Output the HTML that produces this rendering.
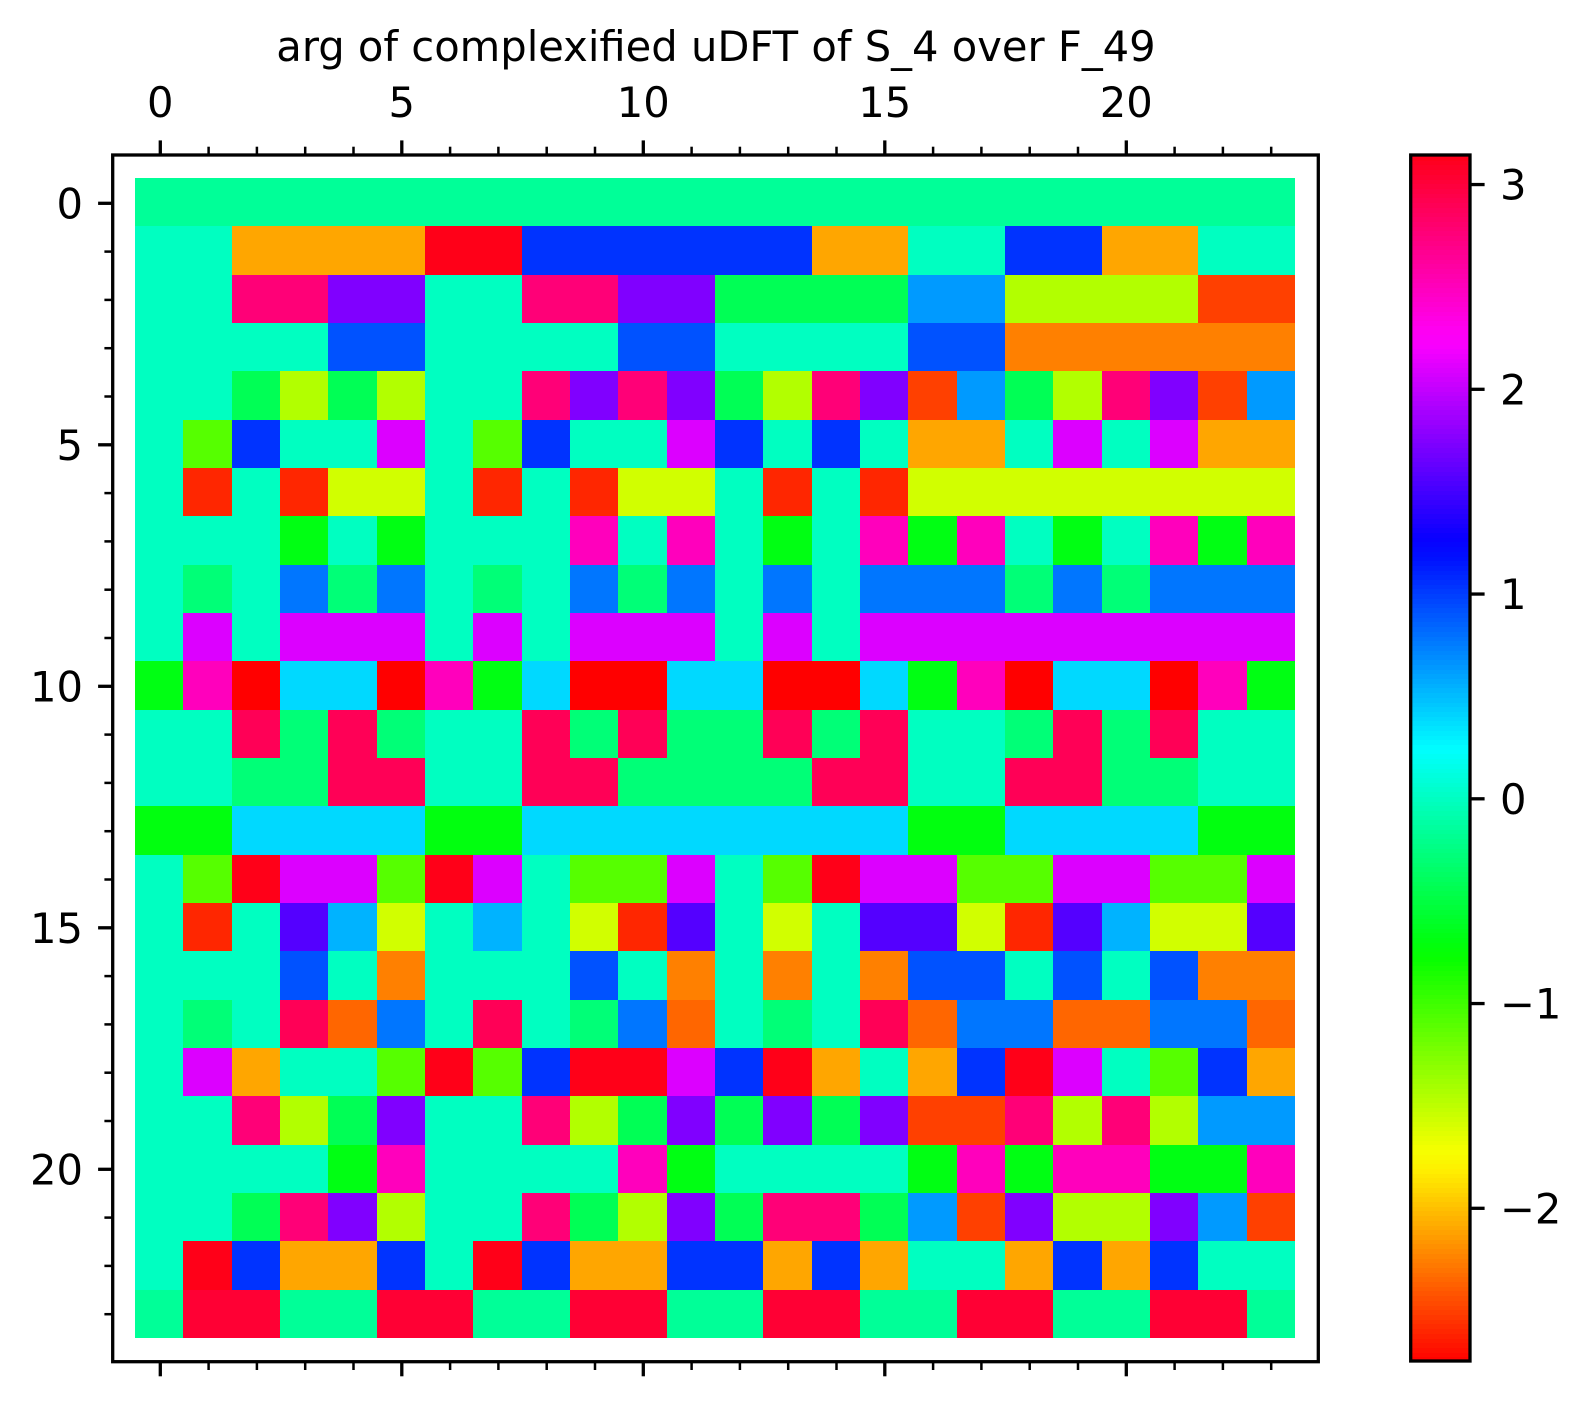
<!DOCTYPE html>
<html lang="en">
<head>
<meta charset="utf-8">
<title>arg of complexified uDFT of S_4 over F_49</title>
<style>
html,body{margin:0;padding:0;background:#fff;}
svg{display:block;}
text{font-family:"DejaVu Sans","Liberation Sans",sans-serif;font-size:41.67px;fill:#000;}
</style>
</head>
<body>
<svg id="chart" xmlns="http://www.w3.org/2000/svg" width="1590" height="1406" viewBox="0 0 1590 1406">
<rect x="0" y="0" width="1590" height="1406" fill="#fff"/>
<g id="cells" shape-rendering="crispEdges"></g>
<rect x="112.7" y="155" width="1205.6" height="1206.7" fill="none" stroke="#000" stroke-width="3.3"/>
<g id="xticks"></g>
<g id="yticks"></g>
<text x="716" y="61" text-anchor="middle">arg of complexified uDFT of S_4 over F_49</text>
<g id="cbar" shape-rendering="crispEdges"></g>
<rect x="1410.7" y="155" width="59.3" height="1206" fill="none" stroke="#000" stroke-width="3.3"/>
<g id="cbticks"></g>
</svg>
<script>
const xTickValues = [0,5,10,15,20];
const yTickValues = [0,5,10,15,20];
const colorbarTickValues = [3,2,1,0,-1,-2];
const colorbarTickLabels = ["3","2","1","0","\u22121","\u22122"];
const colorRange = [-2.749, 3.1416];
const rowValues = [
[-0.16,-0.16,-0.16,-0.16,-0.16,-0.16,-0.16,-0.16,-0.16,-0.16,-0.16,-0.16,-0.16,-0.16,-0.16,-0.16,-0.16,-0.16,-0.16,-0.16,-0.16,-0.16,-0.16,-0.16],
[0,0,-2.1,-2.1,-2.1,-2.1,3.14,3.14,1.04,1.04,1.04,1.04,1.04,1.04,-2.1,-2.1,0,0,1.04,1.04,-2.1,-2.1,0,0],
[0,0,2.77,2.77,1.74,1.74,0,0,2.77,2.77,1.74,1.74,-0.42,-0.42,-0.42,-0.42,0.64,0.64,-1.45,-1.45,-1.45,-1.45,-2.5,-2.5],
[0,0,0,0,0.92,0.92,0,0,0,0,0.92,0.92,0,0,0,0,0.92,0.92,-2.25,-2.25,-2.25,-2.25,-2.25,-2.25],
[0,0,-0.42,-1.45,-0.42,-1.45,0,0,2.77,1.74,2.77,1.74,-0.42,-1.45,2.77,1.74,-2.5,0.64,-0.42,-1.45,2.77,1.74,-2.5,0.64],
[0,-1.09,1.04,0,0,2.1,0,-1.09,1.04,0,0,2.1,1.04,0,1.04,0,-2.1,-2.1,0,2.1,0,2.1,-2.1,-2.1],
[0,-2.6,0,-2.6,-1.57,-1.57,0,-2.6,0,-2.6,-1.57,-1.57,0,-2.6,0,-2.6,-1.57,-1.57,-1.57,-1.57,-1.57,-1.57,-1.57,-1.57],
[0,0,0,-0.68,0,-0.68,0,0,0,2.5,0,2.5,0,-0.68,0,2.5,-0.68,2.5,0,-0.68,0,2.5,-0.68,2.5],
[0,-0.29,0,0.78,-0.29,0.78,0,-0.29,0,0.78,-0.29,0.78,0,0.78,0,0.78,0.78,0.78,-0.29,0.78,-0.29,0.78,0.78,0.78],
[0,2.1,0,2.1,2.1,2.1,0,2.1,0,2.1,2.1,2.1,0,2.1,0,2.1,2.1,2.1,2.1,2.1,2.1,2.1,2.1,2.1],
[-0.68,2.5,-2.749,0.39,0.39,-2.749,2.5,-0.68,0.39,-2.749,-2.749,0.39,0.39,-2.749,-2.749,0.39,-0.68,2.5,-2.749,0.39,0.39,-2.749,2.5,-0.68],
[0,0,2.9,-0.29,2.9,-0.29,0,0,2.9,-0.29,2.9,-0.29,-0.29,2.9,-0.29,2.9,0,0,-0.29,2.9,-0.29,2.9,0,0],
[0,0,-0.29,-0.29,2.9,2.9,0,0,2.9,2.9,-0.29,-0.29,-0.29,-0.29,2.9,2.9,0,0,2.9,2.9,-0.29,-0.29,0,0],
[-0.7,-0.7,0.39,0.39,0.39,0.39,-0.7,-0.7,0.39,0.39,0.39,0.39,0.39,0.39,0.39,0.39,-0.7,-0.7,0.39,0.39,0.39,0.39,-0.7,-0.7],
[0,-1.09,3.14,2.1,2.1,-1.09,3.14,2.1,0,-1.09,-1.09,2.1,0,-1.09,3.14,2.1,2.1,-1.09,-1.09,2.1,2.1,-1.09,-1.09,2.1],
[0,-2.6,0,1.57,0.54,-1.57,0,0.54,0,-1.57,-2.6,1.57,0,-1.57,0,1.57,1.57,-1.57,-2.6,1.57,0.54,-1.57,-1.57,1.57],
[0,0,0,0.92,0,-2.25,0,0,0,0.92,0,-2.25,0,-2.25,0,-2.25,0.92,0.92,0,0.92,0,0.92,-2.25,-2.25],
[0,-0.29,0,2.9,-2.35,0.78,0,2.9,0,-0.29,0.78,-2.35,0,-0.29,0,2.9,-2.35,0.78,0.78,-2.35,-2.35,0.78,0.78,-2.35],
[0,2.1,-2.1,0,0,-1.09,3.14,-1.09,1.04,3.14,3.14,2.1,1.04,3.14,-2.1,0,-2.1,1.04,3.14,2.1,0,-1.09,1.04,-2.1],
[0,0,2.77,-1.45,-0.42,1.74,0,0,2.77,-1.45,-0.42,1.74,-0.42,1.74,-0.42,1.74,-2.5,-2.5,2.77,-1.45,2.77,-1.45,0.64,0.64],
[0,0,0,0,-0.68,2.5,0,0,0,0,2.5,-0.68,0,0,0,0,-0.68,2.5,-0.68,2.5,2.5,-0.68,-0.68,2.5],
[0,0,-0.42,2.77,1.74,-1.45,0,0,2.77,-0.42,-1.45,1.74,-0.42,2.77,2.77,-0.42,0.64,-2.5,1.74,-1.45,-1.45,1.74,0.64,-2.5],
[0,3.14,1.04,-2.1,-2.1,1.04,0,3.14,1.04,-2.1,-2.1,1.04,1.04,-2.1,1.04,-2.1,0,0,-2.1,1.04,-2.1,1.04,0,0],
[-0.16,3.03,3.03,-0.16,-0.16,3.03,3.03,-0.16,-0.16,3.03,3.03,-0.16,-0.16,3.03,3.03,-0.16,-0.16,3.03,3.03,-0.16,-0.16,3.03,3.03,-0.16]
];

const NS = "http://www.w3.org/2000/svg";
function make(tag, attrs, parent){
  const el = document.createElementNS(NS, tag);
  for (const k in attrs) el.setAttribute(k, attrs[k]);
  parent.appendChild(el);
  return el;
}
// axis functions
const CELL = 48.333;
function xEdge(col){ return 135 + CELL * col; }
function yEdge(row){ return 178 + CELL * row; }
function xTick(i){ return 160.3 + 48.3 * i; }
function yTick(i){ return 203.3 + 48.3 * i; }
function cbY(v){ return 798.8 - 204.75 * v; }

// matplotlib "hsv" colormap segments
const redSeg = [[0,1],[0.15873,1],[0.174603,0.96875],[0.333333,0.03125],[0.349206,0],[0.666667,0],[0.68254,0.03125],[0.84127,0.96875],[0.857143,1],[1,1]];
const greenSeg = [[0,0],[0.15873,0.9375],[0.174603,1],[0.507937,1],[0.666667,0.0625],[0.68254,0],[1,0]];
const blueSeg = [[0,0],[0.333333,0],[0.349206,0.0625],[0.507937,1],[0.84127,1],[0.857143,0.9375],[1,0.09375]];
function seg(s, t){
  for (let i = 1; i < s.length; i++){
    if (t <= s[i][0]){
      const f = (t - s[i-1][0]) / (s[i][0] - s[i-1][0]);
      return s[i-1][1] + f * (s[i][1] - s[i-1][1]);
    }
  }
  return s[s.length-1][1];
}
function colorOf(v){
  let t = (v - colorRange[0]) / (colorRange[1] - colorRange[0]);
  t = Math.max(0, Math.min(1, t));
  return "rgb(" + Math.round(seg(redSeg,t)*255) + "," + Math.round(seg(greenSeg,t)*255) + "," + Math.round(seg(blueSeg,t)*255) + ")";
}

// heatmap cells
const cellsG = document.getElementById("cells");
rowValues.forEach(function(row, r){
  row.forEach(function(v, c){
    const x0 = Math.round(xEdge(c)), x1 = Math.round(xEdge(c+1));
    const y0 = Math.round(yEdge(r)), y1 = Math.round(yEdge(r+1));
    const el = make("rect", {x:x0, y:y0, width:x1-x0, height:y1-y0, fill:colorOf(v)}, cellsG);
    
    
  });
});

// x ticks top & bottom
const xG = document.getElementById("xticks");
for (let i = 0; i < rowValues[0].length; i++){
  const major = xTickValues.indexOf(i) >= 0;
  const len = major ? 14.6 : 8.3, w = major ? 3.3 : 2.5;
  const top = make("line", {x1:xTick(i), x2:xTick(i), y1:155, y2:155-len, stroke:"#000", "stroke-width":w}, xG);
  
  
  const bot = make("line", {x1:xTick(i), x2:xTick(i), y1:1361.7, y2:1361.7+len, stroke:"#000", "stroke-width":w}, xG);
  
  
}
xTickValues.forEach(function(v){
  const t = make("text", {x:xTick(v), y:117, "text-anchor":"middle"}, xG);
  t.textContent = String(v);
  
  
});

// y ticks left
const yG = document.getElementById("yticks");
for (let i = 0; i < rowValues.length; i++){
  const major = yTickValues.indexOf(i) >= 0;
  const len = major ? 14.6 : 8.3, w = major ? 3.3 : 2.5;
  const tick = make("line", {x1:112.7, x2:112.7-len, y1:yTick(i), y2:yTick(i), stroke:"#000", "stroke-width":w}, yG);
  
  
}
yTickValues.forEach(function(v){
  const t = make("text", {x:83, y:yTick(v)+15, "text-anchor":"end"}, yG);
  t.textContent = String(v);
  
  
});

// colorbar
const cbG = document.getElementById("cbar");
const LEVELS = 256;
for (let i = 0; i < LEVELS; i++){
  const v0 = colorRange[0] + (colorRange[1]-colorRange[0]) * i / LEVELS;
  const v1 = colorRange[0] + (colorRange[1]-colorRange[0]) * (i+1) / LEVELS;
  const yTop = Math.floor(cbY(v1)), yBot = Math.ceil(cbY(v0));
  const el = make("rect", {x:1411, y:yTop, width:59, height:yBot-yTop, fill:colorOf((v0+v1)/2)}, cbG);
  
  
}
const cbT = document.getElementById("cbticks");
colorbarTickValues.forEach(function(v, i){
  const tick = make("line", {x1:1470, x2:1484.6, y1:cbY(v), y2:cbY(v), stroke:"#000", "stroke-width":3.3}, cbT);
  
  
  const t = make("text", {x:1500, y:cbY(v)+15}, cbT);
  t.textContent = colorbarTickLabels[i];
  
  
});
</script>
</body>
</html>
